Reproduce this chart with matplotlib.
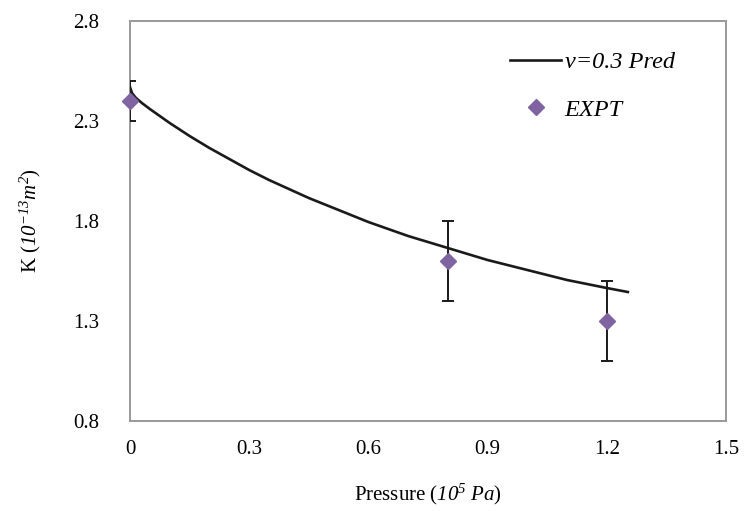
import numpy as np
import matplotlib
matplotlib.use("Agg")
import matplotlib.pyplot as plt

plt.rcParams.update({
    'font.family': 'Liberation Serif',
    'font.size': 15,
    'mathtext.fontset': 'custom',
    # math parts of the labels are all italic in the original
    'mathtext.rm': 'Liberation Serif:italic',
    'mathtext.it': 'Liberation Serif:italic',
})

# predicted curve (v = 0.3)
pred_p = [0.0, 0.005, 0.015, 0.03, 0.05, 0.075, 0.1, 0.15, 0.2, 0.25, 0.3,
          0.35, 0.4, 0.45, 0.5, 0.55, 0.6, 0.65, 0.7, 0.75, 0.8, 0.85, 0.9,
          0.95, 1.0, 1.05, 1.1, 1.15, 1.2, 1.253]
pred_k = [2.47, 2.44, 2.415, 2.39, 2.36, 2.325, 2.29, 2.225, 2.165, 2.11, 2.055,
          2.005, 1.96, 1.915, 1.875, 1.835, 1.795, 1.76, 1.725, 1.695, 1.665, 1.635, 1.605,
          1.58, 1.555, 1.53, 1.505, 1.485, 1.465, 1.445]

# experiments
expt_p = [0.0, 0.8, 1.2]
expt_k = [2.4, 1.6, 1.3]
expt_err = [0.1, 0.2, 0.2]

xticks = [0, 0.3, 0.6, 0.9, 1.2, 1.5]
yticks = [0.8, 1.3, 1.8, 2.3, 2.8]

fig = plt.figure(figsize=(7.44, 5.11), dpi=100)
ax = fig.add_axes([0.1747, 0.1761, 0.8011, 0.7828])

ax.plot(pred_p, pred_k, color='#1a1a1a', linewidth=1.9, label='v=0.3 Pred')
ax.errorbar(expt_p, expt_k, yerr=expt_err, fmt='none', ecolor='#1a1a1a',
            elinewidth=1.4, capsize=4, capthick=1.4, zorder=3)
ax.plot(expt_p, expt_k, linestyle='none', marker='D', markersize=8,
        color='#8064A2', label='EXPT', zorder=4, clip_on=False)

ax.set_xlim(0, 1.5)
ax.set_ylim(0.8, 2.8)
ax.set_xticks(xticks)
ax.set_xticklabels(['0', '0.3', '0.6', '0.9', '1.2', '1.5'])
ax.set_yticks(yticks)
ax.set_yticklabels(['0.8', '1.3', '1.8', '2.3', '2.8'])
ax.tick_params(length=0, pad=14)
ax.tick_params(axis='y', pad=22)
for s in ax.spines.values():
    s.set_color('#999999')
    s.set_linewidth(1.4)

ax.set_xlabel(r'Pressure ($10^5\ Pa$)', labelpad=16)
ax.set_ylabel(r'K ($10^{-13}m^{2}$)', labelpad=22)

ax.legend(loc='upper left', bbox_to_anchor=(510 / 744, 1 - 51 / 511),
          bbox_transform=fig.transFigure, frameon=False,
          prop={'family': 'Liberation Serif', 'style': 'italic', 'size': 17.5},
          handlelength=2.1, handletextpad=0.15, labelspacing=1.05,
          borderaxespad=0, borderpad=0)

fig.savefig('out.png', dpi=100)
